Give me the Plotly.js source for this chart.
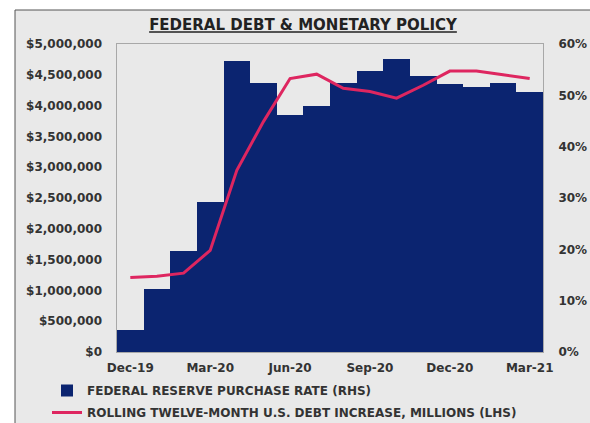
<!DOCTYPE html>
<html>
<head>
<meta charset="utf-8">
<script src="https://cdn.plot.ly/plotly-3.0.1.min.js"></script>
<style>html,body{margin:0;padding:0;background:#fff;}#chart{width:590px;height:423px;}</style>
</head>
<body>
<div id="chart"></div>
<script>
const months = ['Dec-19','Jan-20','Feb-20','Mar-20','Apr-20','May-20','Jun-20','Jul-20','Aug-20','Sep-20','Oct-20','Nov-20','Dec-20','Jan-21','Feb-21','Mar-21'];
const tickMonths = ['Dec-19','Mar-20','Jun-20','Sep-20','Dec-20','Mar-21'];
// Federal Reserve purchase rate, percent (RHS)
const fedPurchaseRate = [4.2, 12.3, 19.7, 29.3, 56.6, 52.4, 46.1, 47.9, 52.4, 54.7, 57.0, 53.8, 52.2, 51.6, 52.4, 50.6];
// Rolling twelve-month U.S. debt increase, millions (LHS)
const debtIncrease = [1210000, 1230000, 1280000, 1650000, 2950000, 3740000, 4440000, 4510000, 4280000, 4230000, 4120000, 4330000, 4560000, 4560000, 4500000, 4440000];

const FONT = '"DejaVu Sans", "Open Sans", sans-serif';
const TXT = '#333333';

const traces = [
  {
    type: 'bar', x: months, y: fedPurchaseRate, yaxis: 'y',
    name: 'FEDERAL RESERVE PURCHASE RATE (RHS)', legendgroup: 'a',
    marker: {color: '#0b2470', line: {width: 0}}
  },
  {
    type: 'scatter', mode: 'lines', x: months, y: debtIncrease, yaxis: 'y2',
    name: 'ROLLING TWELVE-MONTH U.S. DEBT INCREASE, MILLIONS (LHS)', legendgroup: 'b',
    line: {color: '#de2660', width: 3}
  }
];

const P = 426, H = 308;
const layout = {
  width: 590, height: 423,
  margin: {l: 117, r: 47, t: 44, b: 71, autoexpand: false},
  paper_bgcolor: '#ffffff',
  plot_bgcolor: '#ededed',
  font: {family: FONT, color: TXT, size: 12, weight: 700},
  bargap: 0,
  showlegend: true,
  title: {
    text: '<u>FEDERAL DEBT & MONETARY POLICY</u>',
    font: {family: FONT, size: 15, color: '#222', weight: 700},
    x: 303 / 590, xanchor: 'center', y: 1 - 25 / 423, yanchor: 'middle'
  },
  xaxis: {
    type: 'category', tickvals: tickMonths, ticktext: tickMonths,
    showgrid: false, zeroline: false, ticks: '', ticklabelstandoff: 5,
    showline: true, mirror: true, linecolor: '#a8a8a8', linewidth: 1,
    tickfont: {family: FONT, size: 12, color: TXT, weight: 700}
  },
  yaxis: {
    side: 'right', range: [0, 60], dtick: 10, ticksuffix: '%',
    showgrid: false, zeroline: false, ticks: '', ticklabelstandoff: 12,
    showline: true, mirror: true, linecolor: '#a8a8a8', linewidth: 1,
    tickfont: {family: FONT, size: 12, color: TXT, weight: 700}
  },
  yaxis2: {
    overlaying: 'y', side: 'left', range: [0, 5000000], dtick: 500000,
    tickprefix: '$', tickformat: ',d', showgrid: false, zeroline: false, ticks: '',
    ticklabelstandoff: 14,
    tickfont: {family: FONT, size: 12, color: TXT, weight: 700}
  },
  legend: {
    orientation: 'v', traceorder: 'grouped', tracegroupgap: 3,
    x: (47 - 117) / P, xanchor: 'left', y: (352 - 376) / H, yanchor: 'top',
    bgcolor: 'rgba(0,0,0,0)', itemwidth: 30, itemclick: false,
    font: {family: FONT, size: 12, color: TXT, weight: 700}
  },
  shapes: [{
    type: 'rect', xref: 'paper', yref: 'paper', layer: 'below',
    x0: (15 - 117) / P, x1: (620 - 117) / P, y0: (352 - 450) / H, y1: (352 - 10) / H,
    fillcolor: '#e9e9e9', line: {color: '#555', width: 1}
  }]
};

Plotly.newPlot('chart', traces, layout, {displayModeBar: false, staticPlot: true});
</script>
</body>
</html>
